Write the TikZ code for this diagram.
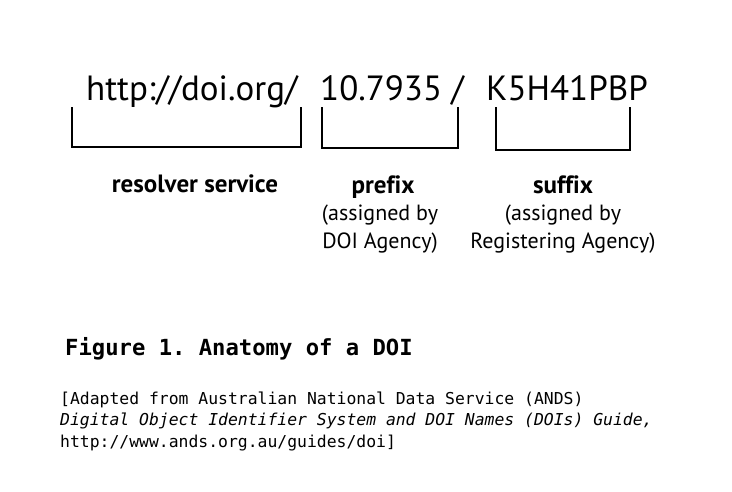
\documentclass[tikz,border=0pt]{standalone}
\usepackage{fontspec}
\setmainfont{PT Sans}[Ligatures=NoCommon]
\setmonofont{DejaVu Sans Mono}
\usetikzlibrary{positioning}

\tikzset{
  doipart/.style={anchor=base west, inner sep=0pt, font=\fontsize{35}{40}\selectfont},
  partname/.style={anchor=base, inner sep=0pt, font=\fontsize{25}{26}\selectfont\bfseries},
  partnote/.style={anchor=base, inner sep=0pt, align=center, font=\fontsize{22}{28}\selectfont},
  brace/.style={line width=1.6pt, line cap=rect},
  caption/.style={anchor=base west, inner sep=0pt, font=\fontsize{22.2}{24}\ttfamily\bfseries},
  source/.style={anchor=base west, inner sep=0pt, align=left, font=\fontsize{16.4}{21.5}\ttfamily}
}

\begin{document}
\begin{tikzpicture}[x=1pt,y=-1pt]
  \useasboundingbox (0,0) rectangle (732,491);
  % the three parts of the name
  \node[doipart] (resolver) at (86,100) {http://doi.org/};
  \node[doipart] (prefix) at (320,100) {10.7935 /};
  \node[doipart] (suffix) at (486,100) {K5H41PBP};
  % brackets under each part
  \draw[brace] (72,108) -- (72,147) -- (301,147) -- (301,108);
  \draw[brace] (322,108) -- (322,148) -- (458,148) -- (458,108);
  \draw[brace] (496,108) -- (496,150) -- (630,150) -- (630,108);
  % what each part is
  \node[partname] (resolverlbl) at (195,192) {resolver service};
  \node[partname] (prefixlbl) at (383,193) {prefix};
  \node[partname] (suffixlbl) at (563,193) {suffix};
  \node[partnote] (prefixnote) at (380,248) {(assigned by\\DOI Agency)};
  \node[partnote] (suffixnote) at (563,248) {(assigned by\\Registering Agency)};
  % caption
  \node[caption] (figcap) at (65,355) {Figure 1. Anatomy of a DOI};
  \node[source] (figsrc) at (60,447)
    {[Adapted from Australian National Data Service (ANDS)\\
     \textit{Digital Object Identifier System and DOI Names (DOIs) Guide,}\\
     http://www.ands.org.au/guides/doi]};
\end{tikzpicture}
\end{document}
